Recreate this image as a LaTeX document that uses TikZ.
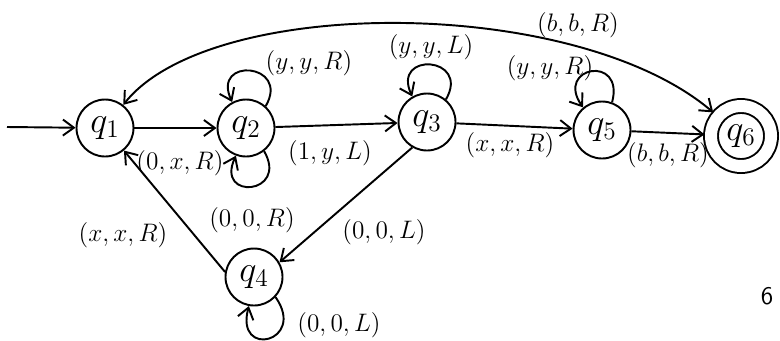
\documentclass[tikz,border=0pt]{standalone}
\usepackage{amsmath,amssymb}
\usepackage{tikz}
\usetikzlibrary{arrows.meta}
\begin{document}
\begin{tikzpicture}[line width=1.1pt,>={Straight Barb[length=2.2mm,width=3.2mm]}]
  \useasboundingbox (0,0) rectangle (15.6,6.8);

    \tikzstyle{every node}=[draw,circle,minimum size=1.14cm,inner sep=0pt,font=\huge]
    \node(q1) at (2.10,4.24){$q_1$};
    \node(q2) at (4.92,4.24){$q_2$};
    \node(q3) at (8.54,4.36){$q_3$};
    \node(q5) at (12.04,4.20){$q_5$};
    \node[double,double distance=0.24cm,outer sep=0.13cm,minimum size=1.2cm](q6) at (14.82,4.08){$q_6$};
    \node(q4) at (5.08,1.26){$q_4$};
    \coordinate (start) at (0.14,4.26);

    \draw[->](start)--(q1);
    \draw[->](q1)--(q2);
    \draw[->](q2)--(q3);
    \draw[->](q3)--(q5);
    \draw[->](q5)--(q6);
    \draw[->](q3.-120)--(q4.30);
    \draw[->](q4.170)--(q1.-50);

    % loops
    \draw[->](q2.48) .. controls +(60:1.0) and +(115:1.0) .. (q2.118);
    \draw[->](q2.-52) .. controls +(-60:1.0) and +(-115:1.0) .. (q2.-110);
    \draw[->](q3.50) .. controls +(60:1.0) and +(115:1.0) .. (q3.120);
    \draw[->](q5.70) .. controls +(75:1.0) and +(125:1.0) .. (q5.130);
    \draw[->](q4.-43) .. controls +(-55:1.1) and +(-105:1.1) .. (q4.-100);

    % big arc over the top
    \draw[<->](q1) .. controls (4.2,6.9) and (11.5,6.9) .. (q6);

  \tikzstyle{every node}=[font=\Large]
    \node(l12) at (3.60,3.54){$(0,x,R)$};
    \node(l23) at (6.60,3.74){$(1,y,L)$};
    \node(l35) at (10.20,3.90){$(x,x,R)$};
    \node(l56) at (13.36,3.70){$(b,b,R)$};
    \node(l16) at (11.56,6.30){$(b,b,R)$};
    \node(l22a) at (6.18,5.54){$(y,y,R)$};
    \node(l22b) at (5.04,2.40){$(0,0,R)$};
    \node(l33) at (8.62,5.86){$(y,y,L)$};
    \node(l55) at (11.00,5.44){$(y,y,R)$};
    \node(l34) at (7.68,2.16){$(0,0,L)$};
    \node(l41) at (2.46,2.10){$(x,x,R)$};
    \node(l44) at (6.78,0.30){$(0,0,L)$};
    \node[font=\sffamily\Large](n6) at (15.34,0.88){6};

  \end{tikzpicture}
\end{document}
